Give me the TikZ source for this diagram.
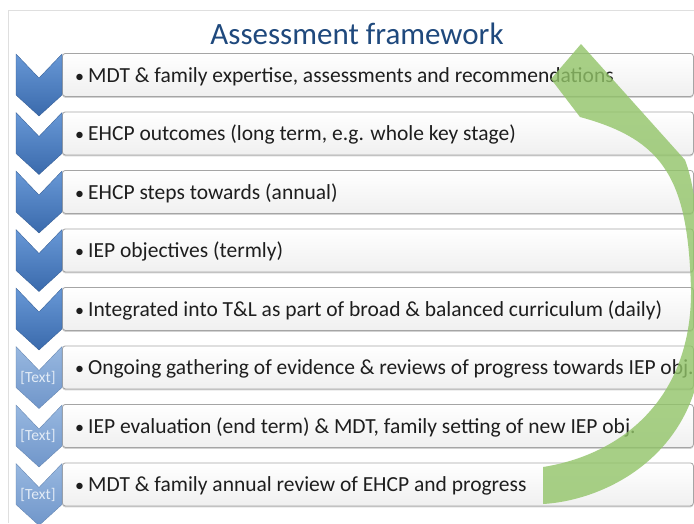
\documentclass[tikz,border=0pt]{standalone}
\usepackage{fontspec}
\setmainfont{Carlito}
\usetikzlibrary{shadows}
\definecolor{titleblue}{RGB}{31,73,125}
\definecolor{chevA}{RGB}{104,152,214}
\definecolor{chevB}{RGB}{58,106,172}
\definecolor{chevC}{RGB}{152,184,224}
\definecolor{chevD}{RGB}{112,150,202}
\definecolor{arrowgreen}{RGB}{146,196,104}
\definecolor{boxline}{RGB}{165,165,165}
\definecolor{txt}{RGB}{30,30,30}
\definecolor{labeltext}{RGB}{226,235,246}
\newcommand\chevshape[2]{\path[#1] (16,{#2}) -- (39,{#2+24}) -- (62,{#2}) -- (62,{#2+41}) -- (39,{#2+62}) -- (16,{#2+41}) -- cycle;}
\newcommand\bul{\makebox[13pt][l]{{\fontsize{18}{18}\selectfont •}}}
\begin{document}
\begin{tikzpicture}[x=1pt,y=-1pt,
 rowbox/.style={draw=boxline, line width=0.8pt, rounded corners=3pt, top color=white, bottom color=gray!12,
   minimum width=631pt, minimum height=43pt, anchor=north west, inner sep=0pt,
   drop shadow={shadow xshift=0pt, shadow yshift=-1.5pt, opacity=0.5, fill=gray!70}},
 rowtext/.style={anchor=base west, inner sep=0pt, font=\fontsize{21.5}{25}\selectfont, text=txt},
 chevdark/.style={top color=chevA, bottom color=chevB, draw=chevB!85!black, line width=0.3pt},
 chevlight/.style={top color=chevC, bottom color=chevD, draw=chevD!85!black, line width=0.3pt},
 chevlabel/.style={font=\fontsize{15.5}{18}\selectfont, text=labeltext, inner sep=0pt, anchor=base},
 titletext/.style={font=\fontsize{31}{36}\selectfont, text=titleblue, anchor=base, inner sep=0pt},
 frameline/.style={draw=gray!25, line width=0.8pt}
]
\useasboundingbox[fill=white] (0,0) rectangle (694,523);
\draw[frameline] (8,523) -- (8,10) -- (694,10);
\node[titletext] (title) at (357,44.5) {Assessment framework};
% boxes
\node[rowbox] (b1) at (62,53) {};
\node[rowbox] (b2) at (62,111.5) {};
\node[rowbox] (b3) at (62,170) {};
\node[rowbox] (b4) at (62,228.5) {};
\node[rowbox] (b5) at (62,287) {};
\node[rowbox] (b6) at (62,345.5) {};
\node[rowbox] (b7) at (62,404) {};
\node[rowbox] (b8) at (62,462.5) {};
% texts
\node[rowtext] (t1) at (75,82) {\bul MDT \& family expertise, assessments and recommendations};
\node[rowtext] (t2) at (75,140.5) {\bul EHCP outcomes (long term, e.g. whole key stage)};
\node[rowtext] (t3) at (75,199) {\bul EHCP steps towards (annual)};
\node[rowtext] (t4) at (75,257.5) {\bul IEP objectives (termly)};
\node[rowtext] (t5) at (75,316) {\bul Integrated into T\&L as part of broad \& balanced curriculum (daily)};
\node[rowtext] (t6) at (75,374.5) {\bul Ongoing gathering of evidence \& reviews of progress towards IEP obj.};
\node[rowtext] (t7) at (75,433) {\bul IEP evaluation (end term) \& MDT, family setting of new IEP obj.};
\node[rowtext] (t8) at (75,491.5) {\bul MDT \& family annual review of EHCP and progress};
% chevrons
\chevshape{chevdark}{54}
\chevshape{chevdark}{112.5}
\chevshape{chevdark}{171}
\chevshape{chevdark}{229.5}
\chevshape{chevdark}{288}
\chevshape{chevlight}{346.5}
\chevshape{chevlight}{405}
\chevshape{chevlight}{463.5}
\node[chevlabel] (l6) at (38,382) {[Text]};
\node[chevlabel] (l7) at (38,440.5) {[Text]};
\node[chevlabel] (l8) at (38,499) {[Text]};
% green curved arrow
\begin{scope}
\clip (0,0) rectangle (694,523);
\fill[arrowgreen, opacity=0.8] (543,467) -- (543,504)
  .. controls (610,500) and (705,450) .. (703,330)
  .. controls (702,240) and (695,185) .. (685,160)
  -- (581,44) -- (551,79) -- (580,117)
  .. controls (665,140) and (688,180) .. (691,290)
  .. controls (692,400) and (620,455) .. (543,467) -- cycle;
\end{scope}
\end{tikzpicture}
\end{document}
